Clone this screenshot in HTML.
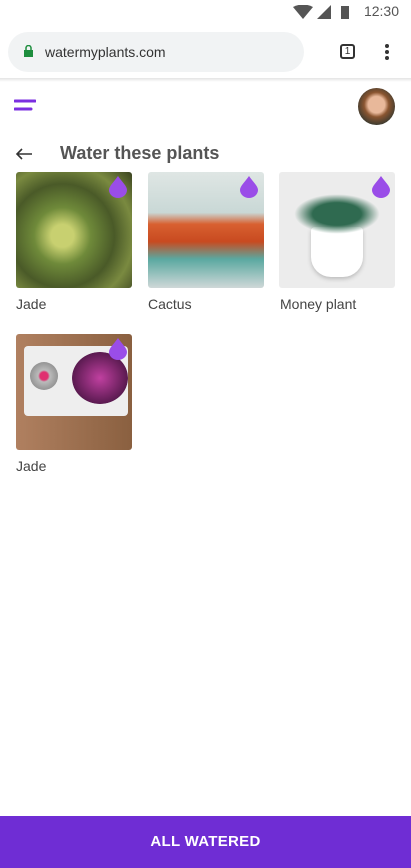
<!DOCTYPE html>
<html><head><meta charset="utf-8">
<style>
*{margin:0;padding:0;box-sizing:border-box}
body{width:411px;height:868px;background:#fff;font-family:"Liberation Sans",Roboto,sans-serif;position:relative;overflow:hidden}
.abs{position:absolute}
.status{top:0;left:0;width:411px;height:24px}
.time{right:12px;top:3px;font-size:14px;color:#555}
.url{left:8px;top:32px;width:296px;height:40px;border-radius:20px;background:#f1f3f4}
.url span{position:absolute;left:37px;top:12px;font-size:14px;color:#333}
.shadow{top:78px;left:0;width:411px;height:4px;background:linear-gradient(#e4e4e4,#fff)}
.card{width:116px;height:116px;border-radius:3px;overflow:hidden}
.lbl{font-size:14px;color:#444}
.drop{width:18px;height:22px}
.btn{left:0;top:816px;width:411px;height:52px;background:#6f2dd4;color:#fff;font-weight:bold;font-size:15px;text-align:center;line-height:52px;letter-spacing:.3px}
</style></head><body>
<div class="abs status">
<svg class="abs" style="left:293px;top:5px" width="70" height="15">
<path d="M0 2 Q10 -3 20 2 L10 14Z" fill="#555"/><path d="M24 14 L38 0 L38 14Z" fill="#555"/><rect x="48" y="1" width="8" height="13" fill="#555"/></svg>
<div class="abs time">12:30</div></div>
<div class="abs url">
<svg class="abs" style="left:16px;top:13px" width="9" height="12"><rect x="0" y="5" width="9" height="7" fill="#1e8e3e"/><path d="M2 5 V3 a2.5 2.5 0 0 1 5 0 V5" stroke="#1e8e3e" stroke-width="1.5" fill="none"/></svg>
<span>watermyplants.com</span></div>
<div class="abs" style="left:340px;top:44px;width:15px;height:15px;border:2px solid #333;border-radius:3px;font-size:10px;text-align:center;line-height:11px;color:#333">1</div>
<svg class="abs" style="left:384px;top:43px" width="6" height="18"><circle cx="3" cy="3" r="2" fill="#333"/><circle cx="3" cy="9" r="2" fill="#333"/><circle cx="3" cy="15" r="2" fill="#333"/></svg>
<div class="abs shadow"></div>
<svg class="abs" style="left:14px;top:99px" width="22" height="14"><line x1="1" y1="2" x2="21" y2="2" stroke="#7b2fe0" stroke-width="3" stroke-linecap="round"/><line x1="1" y1="10" x2="17" y2="10" stroke="#7b2fe0" stroke-width="3" stroke-linecap="round"/></svg>
<div class="abs" style="left:358px;top:88px;width:37px;height:37px;border-radius:50%;background:radial-gradient(circle at 50% 45%,#e8b89a 0 30%,#8a5530 45%,#3a3a30 75%)"></div>
<svg class="abs" style="left:14px;top:147px" width="20" height="14"><path d="M18 7 H3 M8 2 L3 7 L8 12" stroke="#333" stroke-width="1.6" fill="none"/></svg>
<div class="abs" style="left:60px;top:143px;font-size:18px;font-weight:bold;color:#555">Water these plants</div>

<div class="abs card" style="left:16px;top:172px;background:radial-gradient(circle at 40% 55%,#c8d070 0 12%,#6f8a3a 30%,#4a5a28 55%,#7a8a40 75%,#3a4220)"></div>
<div class="abs card" style="left:148px;top:172px;background:linear-gradient(180deg,#dfe6e4 0,#c9d8d6 35%,#d86030 45%,#c84a20 60%,#5aa8a0 75%,#cfd8d8)"></div>
<div class="abs card" style="left:279px;top:172px;background:#ececec">
<div class="abs" style="left:32px;top:55px;width:52px;height:50px;background:#fff;border-radius:4px 4px 20px 20px;box-shadow:0 2px 4px #bbb"></div>
<div class="abs" style="left:15px;top:22px;width:86px;height:40px;background:radial-gradient(ellipse,#2f6a50 0 40%,transparent 70%)"></div></div>
<div class="abs card" style="left:16px;top:334px;background:linear-gradient(90deg,#b08060,#8a6040)">
<div class="abs" style="left:8px;top:12px;width:104px;height:70px;background:#eee;border-radius:4px"></div>
<div class="abs" style="left:14px;top:28px;width:28px;height:28px;border-radius:50%;background:radial-gradient(#e03070 0 20%,#bbb 30%,#777)"></div>
<div class="abs" style="left:56px;top:18px;width:56px;height:52px;border-radius:50%;background:radial-gradient(#c040a0,#5a1a50 70%,transparent 72%)"></div></div>

<svg class="abs drop" style="left:109px;top:176px" viewBox="0 0 18 22"><path d="M9 0 C5 6 0 10 0 14 a9 8 0 0 0 18 0 C18 10 13 6 9 0Z" fill="#9a4de8"/></svg>
<svg class="abs drop" style="left:240px;top:176px" viewBox="0 0 18 22"><path d="M9 0 C5 6 0 10 0 14 a9 8 0 0 0 18 0 C18 10 13 6 9 0Z" fill="#9a4de8"/></svg>
<svg class="abs drop" style="left:372px;top:176px" viewBox="0 0 18 22"><path d="M9 0 C5 6 0 10 0 14 a9 8 0 0 0 18 0 C18 10 13 6 9 0Z" fill="#9a4de8"/></svg>
<svg class="abs drop" style="left:109px;top:338px" viewBox="0 0 18 22"><path d="M9 0 C5 6 0 10 0 14 a9 8 0 0 0 18 0 C18 10 13 6 9 0Z" fill="#9a4de8"/></svg>

<div class="abs lbl" style="left:16px;top:296px">Jade</div>
<div class="abs lbl" style="left:148px;top:296px">Cactus</div>
<div class="abs lbl" style="left:280px;top:296px">Money plant</div>
<div class="abs lbl" style="left:16px;top:458px">Jade</div>

<div class="abs btn">ALL WATERED</div>
</body></html>
